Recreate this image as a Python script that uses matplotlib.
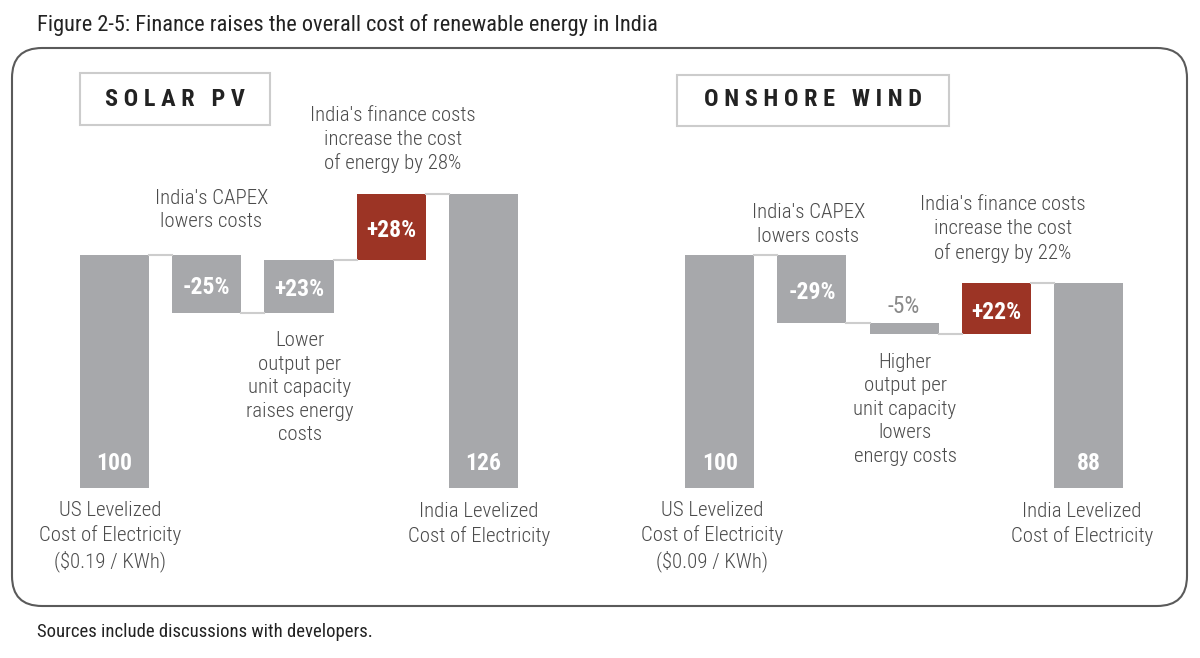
import matplotlib
matplotlib.use('Agg')
import matplotlib.pyplot as plt
from matplotlib.patches import FancyBboxPatch, Rectangle

plt.rcParams['font.family'] = ['Roboto Condensed', 'Liberation Sans Narrow', 'DejaVu Sans']

GREY = '#a7a8ab'
RED = '#9c3425'
LINE = '#cdcdcd'
TEXT = '#4b4b4b'

W, H = 1200, 658
title = 'Figure 2-5: Finance raises the overall cost of renewable energy in India'
source = 'Sources include discussions with developers.'

# data
bar_kinds = ['total', 'delta', 'delta', 'finance', 'total']
solar_values = [100, -25, 23, 28, 126]
solar_labels = ['100', '-25%', '+23%', '+28%', '126']
wind_values = [100, -29, -5, 22, 88]
wind_labels = ['100', '-29%', '-5%', '+22%', '88']

solar_notes = ["India's CAPEX\nlowers costs",
               "India's finance costs\nincrease the cost\nof energy by 28%",
               "Lower\noutput per\nunit capacity\nraises energy\ncosts",
               "US Levelized\nCost of Electricity\n($0.19 / KWh)",
               "India Levelized\nCost of Electricity"]
wind_notes = ["India's CAPEX\nlowers costs",
              "India's finance costs\nincrease the cost\nof energy by 22%",
              "Higher\noutput per\nunit capacity\nlowers\nenergy costs",
              "US Levelized\nCost of Electricity\n($0.09 / KWh)",
              "India Levelized\nCost of Electricity"]

# layout (pixels / data units)
PX = 2.33          # pixels per unit
BASE = 488         # pixel row of zero
STEP = 92.2        # pixels between bars
YMIN, YMAX = -40, 190
solar_note_pos = [(1.05, 119.3), (3.02, 149.5), (2.01, 43.1), (-0.05, -20.8), (3.95, -15.5)]
wind_note_pos = [(0.96, 113.1), (3.07, 111.2), (2.01, 33.7), (-0.08, -20.8), (3.93, -15.5)]

fig = plt.figure(figsize=(W / 100, H / 100), dpi=100)

bg = fig.add_axes([0, 0, 1, 1])
bg.set_xlim(0, W)
bg.set_ylim(H, 0)
bg.axis('off')
bg.add_patch(FancyBboxPatch((12, 48), 1175, 558, boxstyle='round,pad=0,rounding_size=30',
                            fill=False, ec='#5a5a5a', lw=1.5))
bg.text(37, 25, title, va='center', ha='left', fontsize=16.1, color='#222222')
bg.text(37, 632, source, va='center', ha='left', fontsize=13.5, color='#222222')
bg.add_patch(Rectangle((80, 73), 190, 52, fill=False, ec='#cccccc', lw=1.5))
bg.text(175, 99, 'S O L A R   P V', ha='center', va='center', fontsize=17.5,
        fontweight='bold', color='#222222')
bg.add_patch(Rectangle((677, 75), 272, 51, fill=False, ec='#cccccc', lw=1.5))
bg.text(813, 100, 'O N S H O R E   W I N D', ha='center', va='center', fontsize=17.5,
        fontweight='bold', color='#222222')


def waterfall(first_center, values, labels, notes, note_pos):
    left = first_center - STEP / 2
    bottom_px = H - BASE - (0 - YMIN) * PX
    ax = fig.add_axes([left / W, bottom_px / H, 5 * STEP / W, (YMAX - YMIN) * PX / H])
    ax.set_xlim(-0.5, 4.5)
    ax.set_ylim(YMIN, YMAX)
    ax.axis('off')
    ax.patch.set_alpha(0)

    width = 0.75
    level = 0
    for i, (v, lab, kind) in enumerate(zip(values, labels, bar_kinds)):
        if kind == 'total':
            bottom, height = 0, v
            level = v
        else:
            bottom = level + min(v, 0)
            height = abs(v)
            level = level + v
        color = RED if kind == 'finance' else GREY
        ax.bar(i, height, bottom=bottom, width=width, color=color)
        if kind == 'total':
            ax.text(i, 10.7, lab, ha='center', va='center', color='white',
                    fontsize=17, fontweight='bold')
        elif height >= 10:
            ax.text(i, bottom + height / 2 - 1.5, lab, ha='center', va='center',
                    color='white', fontsize=17, fontweight='bold')
        else:
            ax.text(i, bottom + height + 7, lab, ha='center', va='center',
                    color='#8a8a8a', fontsize=17)
        if i < len(values) - 1:
            ax.plot([i + width / 2, i + 1 - width / 2], [level, level],
                    color=LINE, lw=1.5)

    for txt, (x, y) in zip(notes, note_pos):
        ax.text(x, y, txt, ha='center', va='center', fontsize=15, color=TEXT,
                fontweight='light', linespacing=1.3)
    return ax


waterfall(114.6, solar_values, solar_labels, solar_notes, solar_note_pos)
waterfall(719.7, wind_values, wind_labels, wind_notes, wind_note_pos)

fig.savefig('out.png', dpi=100)
